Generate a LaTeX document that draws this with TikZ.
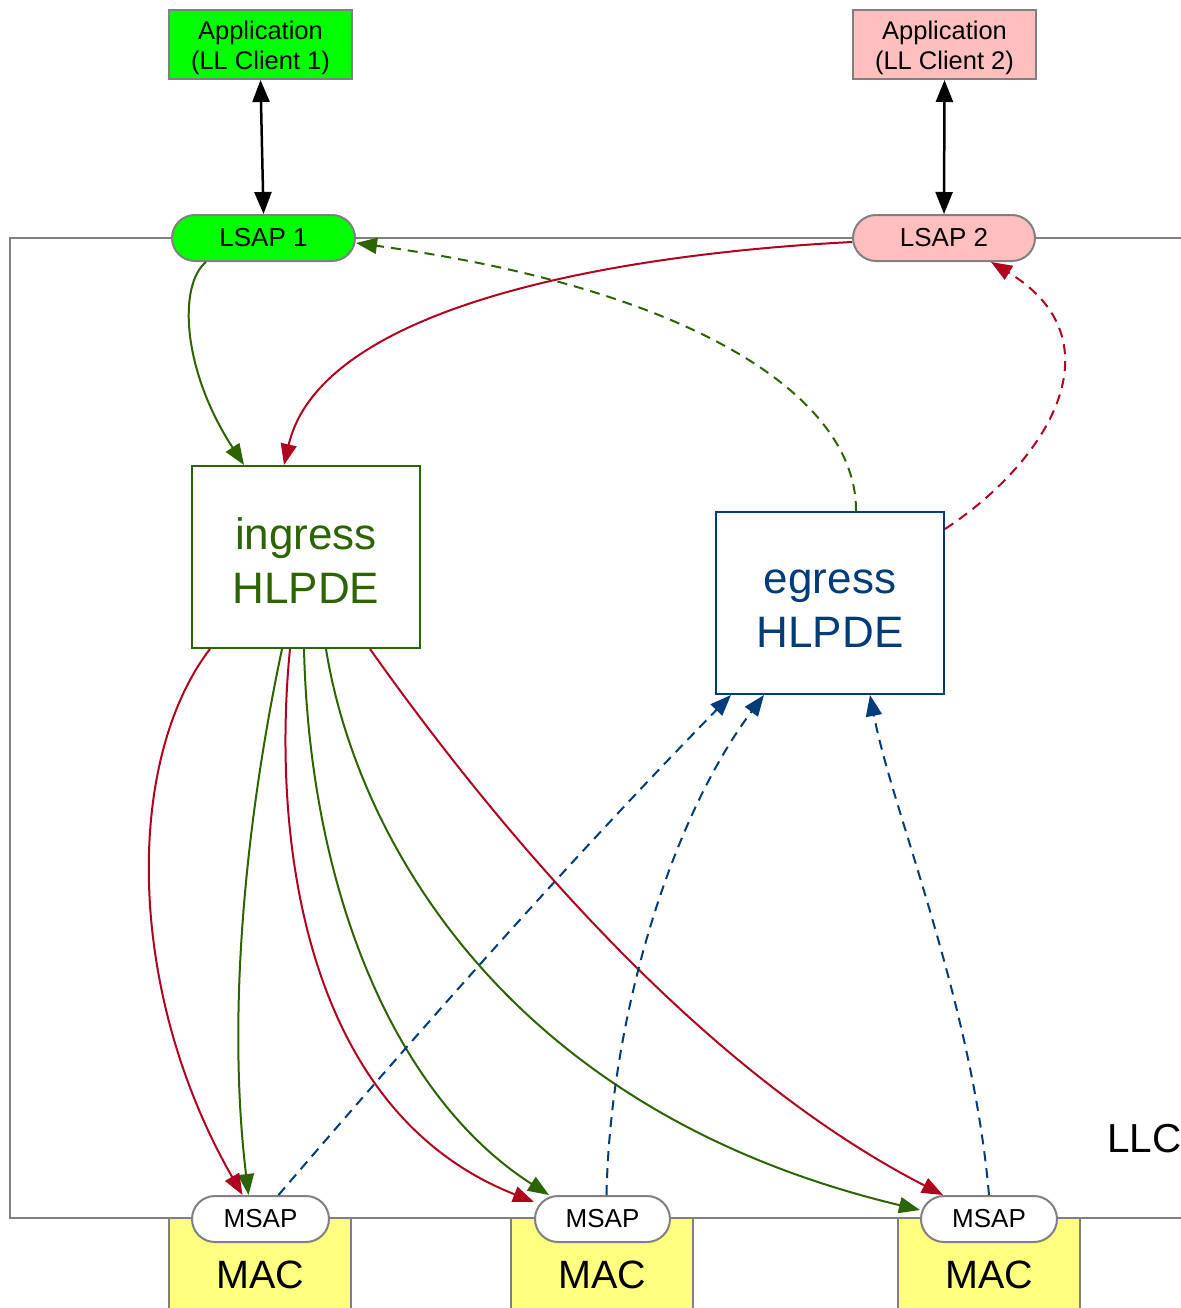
\documentclass[tikz,border=0pt]{standalone}
\usepackage{fontspec}
\setmainfont{Liberation Sans}
\usetikzlibrary{arrows.meta}
\definecolor{appgreen}{HTML}{00FF00}
\definecolor{apppink}{HTML}{FFBFBF}
\definecolor{macyellow}{HTML}{FFFF80}
\definecolor{framegray}{HTML}{808080}
\definecolor{dgreen}{HTML}{2B6400}
\definecolor{dred}{HTML}{B00020}
\definecolor{dblue}{HTML}{003B7A}
\tikzset{
  appbox/.style={draw=framegray, line width=2pt, minimum width=183pt, minimum height=69pt, inner sep=0pt},
  apptext/.style={align=center, inner sep=0pt, yshift=-3.5pt, font=\fontsize{25.5}{30}\selectfont},
  pill/.style={draw=framegray, line width=2pt, rounded corners=23pt, minimum height=46pt, inner sep=0pt, font=\fontsize{26}{30}\selectfont},
  hlpde/.style={line width=2pt, minimum width=228pt, minimum height=182pt, inner sep=0pt},
  hlpdetext/.style={align=center, inner sep=0pt, yshift=-4pt, font=\fontsize{44}{54}\selectfont},
  macbox/.style={draw=framegray, fill=macyellow, line width=2pt, minimum width=182pt, minimum height=114pt, inner sep=0pt, font=\fontsize{39.5}{44}\selectfont},
  gconn/.style={draw=dgreen, line width=2pt, color=dgreen, -{Triangle[length=21pt,width=16pt]}},
  rconn/.style={draw=dred, line width=2pt, color=dred, -{Triangle[length=21pt,width=16pt]}},
  bconn/.style={draw=dblue, line width=2pt, color=dblue, -{Triangle[length=21pt,width=16pt]}},
  dashconn/.style={dash pattern=on 10pt off 7pt},
  blackconn/.style={draw=black, line width=2.5pt, {Triangle[length=22pt,width=17pt]}-{Triangle[length=22pt,width=17pt]}}
}
\begin{document}
\begin{tikzpicture}[x=1pt,y=-1pt]
\useasboundingbox (0,0) rectangle (1180,1308);
% LLC frame
\draw[framegray, line width=2pt] (1182,238) -- (10,238) -- (10,1218) -- (1182,1218);
\node[anchor=base west, inner sep=0pt, font=\fontsize{40.5}{44}\selectfont] (llc) at (1107,1152) {LLC};
% MAC boxes
\node[macbox] (mac1) at (260,1275) {MAC};
\node[macbox] (mac2) at (602,1275) {MAC};
\node[macbox] (mac3) at (989,1275) {MAC};
% applications and LSAPs
\node[appbox, fill=appgreen, label={[apptext]center:Application\\(LL Client 1)}] (app1) at (260.5,44.5) {};
\node[appbox, fill=apppink, label={[apptext]center:Application\\(LL Client 2)}] (app2) at (944.5,44.5) {};
\node[pill, fill=appgreen, minimum width=183pt] (lsap1) at (263.5,238) {LSAP 1};
\node[pill, fill=apppink, minimum width=182pt] (lsap2) at (944,238) {LSAP 2};
% MSAPs
\node[pill, fill=white, minimum width=137pt] (msap1) at (260.5,1219) {MSAP};
\node[pill, fill=white, minimum width=135pt] (msap2) at (602.5,1219) {MSAP};
\node[pill, fill=white, minimum width=136pt] (msap3) at (989,1219) {MSAP};
% HLPDE
\node[hlpde, draw=dgreen, label={[hlpdetext, text=dgreen]center:ingress\\HLPDE}] (ingress) at (306,557) {};
\node[hlpde, draw=dblue, label={[hlpdetext, text=dblue, yshift=-1.5pt]center:egress\\HLPDE}] (egress) at (830,603) {};
% black arrows
\draw[blackconn] (app1.south) -- (lsap1.north);
\draw[blackconn] (app2.south) -- (lsap2.north);
% green solid
\draw[gconn] ([xshift=35pt]lsap1.south west) .. controls (178,285) and (182,370) .. ([xshift=53pt]ingress.north west);
\draw[gconn] ([xshift=91pt]ingress.south west) .. controls (250,800) and (225,1000) .. ([xshift=-12pt]msap1.north);
\draw[gconn] ([xshift=113pt]ingress.south west) .. controls (310,900) and (400,1100) .. ([xshift=15pt]msap2.north west);
\draw[gconn] ([xshift=135pt]ingress.south west) .. controls (355,830) and (500,1110) .. ([yshift=9pt]msap3.west);
% red solid
\draw[rconn] ([yshift=-4pt]lsap2.west) .. controls (600,255) and (320,310) .. ([xshift=93pt]ingress.north west);
\draw[rconn] ([xshift=19pt]ingress.south west) .. controls (125,760) and (125,990) .. ([xshift=-18pt]msap1.north);
\draw[rconn] ([xshift=99pt]ingress.south west) .. controls (272,830) and (300,1110) .. (msap2.166);
\draw[rconn] ([xshift=179pt]ingress.south west) .. controls (470,790) and (680,1060) .. ([xshift=23pt]msap3.north west);
% dashed to LSAPs
\draw[gconn, dashconn] ([xshift=141pt]egress.north west) .. controls (857,400) and (700,290) .. ([yshift=-5pt]lsap1.east);
\draw[rconn, dashconn] ([yshift=-18pt]egress.north east) .. controls (1050,460) and (1120,340) .. ([xshift=-45pt]lsap2.south east);
% blue dashed
\draw[bconn, dashconn] ([xshift=18pt]msap1.north) .. controls (420,1030) and (570,860) .. ([xshift=16pt]egress.south west);
\draw[bconn, dashconn] ([xshift=4pt]msap2.north) .. controls (610,1020) and (670,820) .. ([xshift=49pt]egress.south west);
\draw[bconn, dashconn] (msap3.north) .. controls (972,1000) and (892,810) .. ([xshift=155pt]egress.south west);
\end{tikzpicture}
\end{document}
